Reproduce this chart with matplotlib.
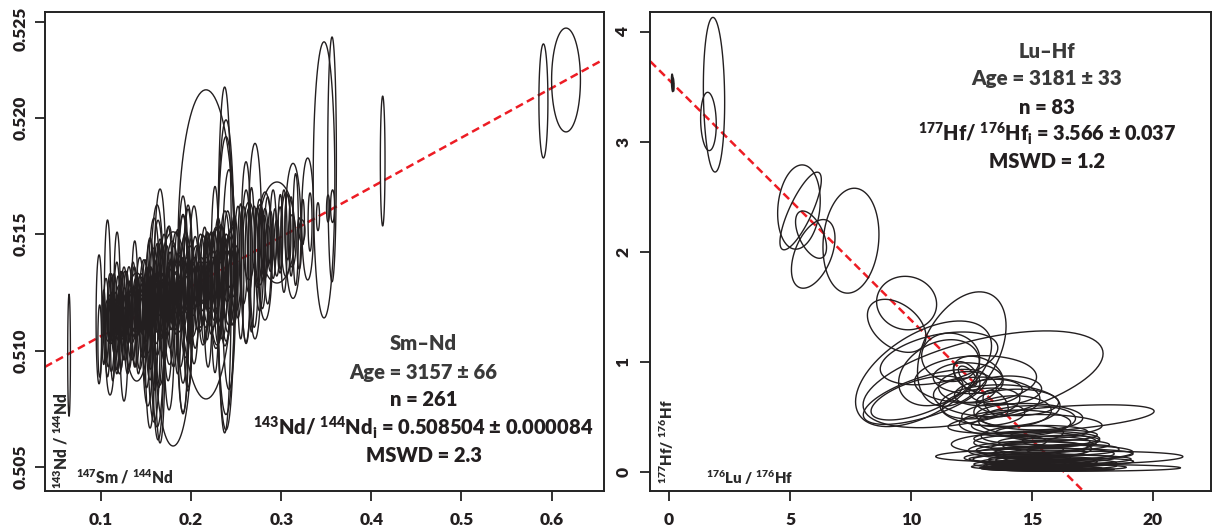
import numpy as np
import matplotlib
matplotlib.use("Agg")
import matplotlib.pyplot as plt
from matplotlib.transforms import ScaledTranslation

WEIGHT = 'heavy'
plt.rcParams['font.family'] = ['Lato', 'DejaVu Sans']
plt.rcParams['font.weight'] = WEIGHT
plt.rcParams['mathtext.default'] = 'regular'

INK = '#231f20'
RED = '#ed1c24'
W, H = 1213, 527

# ---- Sm-Nd: individually visible ellipses ----
nd_x = [.0645,.0978,.0985,.1072,.1178,.110,.1255,.1374,.1396,.1519,.1655,.1622,.1655,.1800,.2165,.2953,.3475,.3564,.4126,.591,.6161,.357,.352,.3408,.3294,.3131,.2709,.2609,.282,.2372,.2387,.2387,.242,.2265,.2987,.293,.3053,.312,.3231,.332,.324,.2642,.2764,.2742,.2809,.2853,.2176,.2287,.1544,.1633,.1755,.191,.1966,.1544,.1588,.191,.1966,.2032,.2132,.2188,.2276,.1766]
nd_y = [.5098,.51134,.51041,.51224,.51213,.51024,.51071,.512,.51101,.51033,.51273,.51149,.51041,.5105,.51456,.51507,.51733,.51821,.51814,.52072,.52162,.5162,.5161,.51575,.51565,.51514,.5147,.51424,.51406,.51389,.51325,.51322,.51305,.51305,.51475,.51497,.51497,.51471,.51514,.51552,.51552,.51471,.51454,.5145,.5145,.5145,.51278,.51273,.51071,.51088,.5114,.5116,.51234,.51179,.51131,.51196,.51217,.51282,.5126,.51217,.51269,.51217]
nd_hx = [.0015,.0033,.002,.0035,.0035,.005,.0045,.0035,.013,.0055,.0066,.0078,.0055,.02,.031,.02,.012,.0048,.0026,.005,.016,.0022,.0017,.0017,.0067,.0088,.0075,.0055,.008,.0075,.0095,.0095,.0075,.0045,.0028,.0022,.0055,.0044,.0033,.0022,.0017,.0066,.0055,.004,.0035,.0028,.004,.0078,.0055,.0065,.006,.0065,.0055,.005,.007,.006,.005,.0055,.0055,.0045,.0065,.0038]
nd_hy = [.00262,.00277,.00155,.00337,.00296,.00215,.00288,.00271,.00232,.00271,.00421,.00477,.00438,.0046,.00664,.00217,.00593,.00526,.00279,.00245,.00223,.0007,.00058,.0006,.00262,.0029,.0042,.00387,.00275,.00743,.00666,.00597,.00472,.004,.00142,.00112,.0018,.00112,.00047,.00125,.00097,.00167,.00172,.00165,.0013,.00086,.00232,.00249,.00404,.00472,.00395,.00425,.00391,.00305,.00438,.00468,.00391,.00339,.00236,.00288,.0026,.00206]

# ---- Sm-Nd: the dense band ----
band_x = [.103,.1055,.108,.110,.1115,.113,.1145,.116,.1175,.119,.1205,.122,.1235,.125,.1265,.128,.1295,.131,.1325,.134,
          .1355,.137,.1385,.140,.1415,.143,.1445,.146,.1475,.149,.1505,.152,.1535,.155,.1565,.158,.1595,.161,.1625,.164,
          .1655,.167,.1685,.170,.1715,.173,.1745,.176,.1775,.179,.1805,.182,.1835,.185,.1865,.188,.1895,.191,.1925,.194,
          .1955,.197,.1985,.200,.2015,.203,.2045,.206,.2075,.209,.2105,.212,.2135,.215,.2165,.218,.2195,.221,.2225,.224,.2255,.227,.2285,.230,.2315,.233,.2345,.236,.2375,.239,.2405,.242,.2435,.245,.2465,.248,.2495,
          .252,.255,.258,.261,.264,.267,.270,.273,.276,.279,.282,.285,.288,.291,.295,.299,.303,.307,.311,.316,.320]
band_y = [.5110,.5113,.5107,.5118,.5112,.5106,.5116,.5109,.5114,.5120,.5108,.5113,.5118,.5110,.5115,.5121,.5107,.5114,.5118,.5111,
          .5117,.5122,.5112,.5119,.5108,.5116,.5121,.5113,.5118,.5124,.5110,.5117,.5122,.5114,.5119,.5125,.5111,.5118,.5122,.5115,
          .5120,.5126,.5116,.5123,.5118,.5127,.5120,.5116,.5124,.5128,.5119,.5123,.5129,.5121,.5125,.5117,.5127,.5122,.5130,.5124,
          .5128,.5121,.5131,.5126,.5122,.5129,.5125,.5132,.5127,.5123,.5130,.5126,.5133,.5128,.5124,.5131,.5127,.5134,.5129,.5125,.5132,.5128,.5135,.5130,.5126,.5133,.5129,.5136,.5131,.5127,.5134,.5130,.5137,.5132,.5128,.5135,.5131,
          .5138,.5134,.5141,.5136,.5143,.5139,.5136,.5144,.5141,.5138,.5146,.5143,.5147,.5150,.5144,.5151,.5147,.5153,.5149,.5152,.5146]
band_hx = [.002,.003,.0025,.003,.0035,.0025,.003,.003,.0035,.0025,.004,.003,.0035,.003,.0045,.003,.0035,.004,.003,.0045,
           .0035,.003,.004,.0035,.003,.0045,.004,.0035,.005,.003,.004,.0055,.0035,.0045,.004,.0055,.0035,.005,.0045,.004,
           .006,.004,.005,.0045,.006,.0035,.005,.0055,.004,.0065,.005,.0045,.0055,.004,.006,.005,.0045,.0055,.004,.006,
           .005,.0045,.0055,.004,.006,.005,.0045,.0055,.004,.006,.005,.0045,.0055,.0045,.006,.005,.004,.0055,.005,.0065,.0045,.005,.0055,.0045,.006,.005,.0055,.0045,.006,.0055,.005,.0065,.0045,.0055,.005,.004,.0055,
           .004,.0035,.0045,.005,.004,.0035,.0045,.003,.0045,.004,.0035,.004,.003,.0035,.003,.0025,.0035,.003,.0025,.003,.0025]
band_hy = [.0016,.0018,.0014,.0015,.0021,.0019,.0017,.0013,.0024,.0012,.0018,.0021,.0016,.0014,.0019,.0013,.0017,.0022,.0012,.0015,
           .0021,.0014,.0019,.0013,.0018,.0024,.0012,.0016,.0021,.0015,.0026,.0018,.0013,.0022,.0016,.0019,.0028,.0015,.0024,.0031,
           .0014,.0021,.0017,.0027,.0013,.0018,.0033,.0022,.0015,.0019,.0026,.0014,.0022,.0031,.0017,.0024,.0013,.0036,.0019,.0027,
           .0012,.0018,.0014,.0022,.0016,.0011,.0024,.0013,.0018,.0015,.0020,.0012,.0016,.0025,.0014,.0019,.0011,.0016,.0022,.0015,.0019,.0012,.0017,.0027,.0016,.0021,.0024,.0013,.0029,.0023,.0026,.0019,.0014,.0021,.0017,.0023,.0014,
           .0024,.0029,.0021,.0033,.0018,.0031,.0026,.0017,.0024,.0020,.0015,.0023,.0013,.0019,.0012,.0016,.0022,.0014,.0017,.0024,.0011]

# ---- Sm-Nd: small ellipses that make up the black core ----
core_x = [.108,.110,.112,.114,.116,.118,.120,.122,.124,.126,.128,.130,.132,.134,.136,.138,.140,.142,.144,.146,.148,.150,.152,.154,.156,.158,.160,.162,.164,.166,.168,.170,.172,.174,.176,.178,.180,.182,.184,.186,.188,.190,.193,.196,.199,.202,.205,.208,.211,.214,.217,.220,.223,.226,.229,.232,.236,.240,.244,.248]
core_y = [.5113,.5111,.5114,.5112,.5115,.5113,.5116,.5114,.5112,.5116,.5115,.5113,.5117,.5115,.5118,.5116,.5114,.5118,.5116,.5119,.5117,.5115,.5119,.5118,.5120,.5117,.5121,.5119,.5122,.5120,.5118,.5122,.5120,.5123,.5121,.5125,.5123,.5121,.5125,.5124,.5126,.5123,.5127,.5125,.5128,.5126,.5129,.5127,.5130,.5128,.5131,.5129,.5132,.5130,.5133,.5131,.5134,.5132,.5135,.5133]
core_hx = [.004,.003,.0035,.004,.003,.0035,.004,.003,.0045,.0035,.004,.003,.0035,.0045,.003,.004,.0035,.0045,.004,.003,.0045,.004,.0035,.005,.004,.0035,.0045,.005,.004,.0035,.0045,.005,.004,.0035,.005,.0045,.004,.0055,.0045,.004,.005,.0045,.005,.004,.0055,.0045,.005,.004,.0055,.0045,.005,.004,.0055,.0045,.005,.004,.0055,.0045,.005,.004]
core_hy = [.0009,.0007,.0011,.0008,.0010,.0006,.0012,.0009,.0007,.0011,.0008,.0010,.0007,.0012,.0009,.0011,.0006,.0010,.0008,.0012,.0007,.0011,.0009,.0010,.0006,.0012,.0008,.0011,.0007,.0010,.0012,.0009,.0006,.0011,.0008,.0010,.0007,.0012,.0009,.0006,.0011,.0008,.0010,.0007,.0009,.0011,.0006,.0008,.0010,.0007,.0009,.0006,.0011,.0008,.0010,.0007,.0009,.0011,.0008,.0010]

# ---- Lu-Hf ellipses ----
hf_x = [1.86,1.63,.14,.18,5.37,5.44,5.87,5.96,7.52,9.82,9.41,12.1,10.52,12.98,11.16,11.64,11.16,10.58,10.25,12.67,13.13,13.68,12.34,12.78,12.31,12.34,12.35,15.79,14.67,15.1,16.9,16.99,16.28,14.92,
        14.2,14.9,13.5,14.3,15.2,14.8,15.2,15.5,16.0,15.3,14.6,
        14.2,14.8,15.3,15.9,16.2,15.0,15.6,16.4,14.6,15.2,15.8,16.0,15.1,15.7,16.6,14.9,15.5,16.3,14.5,14.4,15.4,16.1,15.6,16.1,15.0,15.4,
        13.2,13.9,14.4,12.9,13.4,16.2,14.1,16.7,15.4,15.9,14.5,15.0]
hf_y = [3.427,3.184,3.535,3.52,2.406,2.37,2.155,1.98,2.10,1.533,1.326,1.115,.89,.84,1.03,1.04,.9,.68,.67,.84,.68,.6,.77,.88,.87,.87,.85,.478,.26,.15,.125,.035,.17,.2,
        .55,.5,.62,.44,.42,.47,.30,.27,.24,.22,.34,
        .05,.07,.09,.05,.08,.04,.03,.04,.03,.025,.06,.02,.06,.1,.09,.11,.02,.11,.045,.13,.12,.16,.075,.035,.07,.05,
        .72,.74,.63,.62,.52,.28,.27,.2,.36,.33,.2,.18]
hf_hx = [.44,.323,.04,.03,.88,.855,.64,.9,1.157,1.24,1.21,1.83,2.81,4.96,2.43,1.2,1.67,2.55,1.9,2.52,2.2,2.48,1.2,1.03,.54,.38,1.43,4.26,3.0,4.08,4.34,4.15,2.9,2.55,
         1.6,2.2,.52,2.3,2.7,2.0,2.6,1.9,2.2,2.0,1.7,
         1.2,2.2,2.4,2.6,2.3,1.9,2.3,2.5,1.7,2.1,1.8,2.4,2.0,1.9,2.6,1.7,1.8,2.8,2.0,2.2,3.0,2.3,1.5,1.6,1.4,1.7,
         1.4,1.5,1.7,1.6,1.3,1.6,1.5,1.9,1.9,1.8,1.8,2.2]
hf_hy = [.703,.265,.08,.06,.383,.353,.215,.312,.477,.243,.241,.52,.48,.44,.24,.22,.3,.25,.2,.215,.18,.19,.14,.17,.13,.09,.14,.13,.1,.06,.06,.03,.07,.08,
         .14,.12,.12,.12,.1,.13,.07,.05,.05,.05,.08,
         .03,.035,.04,.03,.035,.025,.02,.025,.02,.015,.03,.015,.03,.04,.035,.035,.015,.04,.025,.05,.04,.05,.025,.015,.025,.02,
         .12,.13,.12,.14,.1,.05,.06,.05,.06,.05,.05,.045]
hf_rho = [-.1,-.1,-.3,-.3,.15,.8,-.54,.46,.12,-.05,-.4,.4,.53,.53,.4,-.05,.3,.65,.6,.1,-.1,0,0,-.3,-.5,-.6,-.05,.55,.1,.2,.2,0,.1,.1,
          .05,-.1,-.4,.05,0,.1,0,.05,.1,.1,.2,
          0,.05,0,.1,0,0,.05,0,0,0,.1,0,.05,.1,.1,0,0,.1,0,.1,.1,.05,0,0,0,0,
          .2,.1,0,.3,.2,.1,.1,.1,.05,.1,.1,.05]

# ---- isochrones (end points) ----
nd_line_x = [.0378, .6577]
nd_line_y = [.5093, .5225]
hf_line_x = [-.773, 17.1]
hf_line_y = [3.73, -.171]

# ---- ticks ----
nd_xticks = [.1, .2, .3, .4, .5, .6]
nd_xlabels = ['0.1', '0.2', '0.3', '0.4', '0.5', '0.6']
nd_yticks = [.505, .510, .515, .520, .52412]
nd_ylabels = ['0.505', '0.510', '0.515', '0.520', '0.525']
hf_xticks = [0, 5, 10, 15, 20]
hf_yticks = [0, 1, 2, 3, 4]

# ---- annotation text ----
nd_lines = ['Sm–Nd', 'Age = 3157 ± 66', 'n = 261',
            r'$^{143}$Nd/ $^{144}$Nd$_{i}$ = 0.508504 ± 0.000084', 'MSWD = 2.3']
hf_lines = ['Lu–Hf', 'Age = 3181 ± 33', 'n = 83',
            r'$^{177}$Hf/ $^{176}$Hf$_{i}$ = 3.566 ± 0.037', 'MSWD = 1.2']


def ellipse(ax, cx, cy, hx, hy, rho):
    t = np.linspace(0, 2 * np.pi, 90, endpoint=False)
    ax.fill(cx + hx * np.cos(t),
            cy + hy * (rho * np.cos(t) + np.sqrt(1 - rho ** 2) * np.sin(t)),
            fill=False, edgecolor=INK, lw=1.0, zorder=3, joinstyle='round')


def frame(px0, px1, py0, py1):
    return fig.add_axes([px0 / W, 1 - py1 / H, (px1 - px0) / W, (py1 - py0) / H])


def px_text(x, y, s, **kw):
    return fig.text(x / W, 1 - y / H, s, ha='center', va='center', fontweight=WEIGHT, **kw)


fig = plt.figure(figsize=(W / 100, H / 100), dpi=100, facecolor='white')

ax1 = frame(45, 603.5, 12, 490.5)
ax2 = frame(650.3, 1211, 12, 490.5)

for cx, cy, hx, hy in zip(nd_x, nd_y, nd_hx, nd_hy, strict=True):
    ellipse(ax1, cx, cy, hx, hy, 0.0)
for cx, cy, hx, hy in zip(band_x, band_y, band_hx, band_hy, strict=True):
    ellipse(ax1, cx, cy, hx, hy, 0.0)
for cx, cy, hx, hy in zip(core_x, core_y, core_hx, core_hy, strict=True):
    ellipse(ax1, cx, cy, hx, hy, 0.0)
for cx, cy, hx, hy, r in zip(hf_x, hf_y, hf_hx, hf_hy, hf_rho, strict=True):
    ellipse(ax2, cx, cy, hx, hy, r)

ax1.plot(nd_line_x, nd_line_y, color=RED, lw=1.8, dashes=(3.2, 1.8), zorder=2)
ax2.plot(hf_line_x, hf_line_y, color=RED, lw=1.8, dashes=(3.2, 1.8), zorder=2)

ax1.set_xlim(.0378, .6577)
ax1.set_ylim(.50399, .52454)
ax2.set_xlim(-.773, 22.4)
ax2.set_ylim(-.171, 4.179)

ax1.set_xticks(nd_xticks, nd_xlabels)
ax1.set_yticks(nd_yticks, nd_ylabels)
ax2.set_xticks(hf_xticks, [str(v) for v in hf_xticks])
ax2.set_yticks(hf_yticks, [str(v) for v in hf_yticks])

for ax, ypad in ((ax1, 4.5), (ax2, 6.5)):
    for s in ax.spines.values():
        s.set_linewidth(1.4)
        s.set_color('#222222')
    ax.tick_params(axis='both', length=7.2, width=1.3, color='#222222', labelsize=12.5, labelcolor=INK)
    ax.tick_params(axis='x', pad=8)
    ax.tick_params(axis='y', pad=ypad, labelrotation=90)
    for lab in ax.get_yticklabels():
        lab.set_va('center')
        lab.set_fontweight(WEIGHT)
    for lab in ax.get_xticklabels():
        lab.set_fontweight(WEIGHT)

top_label = ax1.get_yticklabels()[-1]
top_label.set_transform(top_label.get_transform() + ScaledTranslation(0, -5 / 72, fig.dpi_scale_trans))

for s, y, c in zip(nd_lines, [344, 372, 400, 428, 456], ['#3a3a3a', '#3a3a3a', INK, INK, INK]):
    px_text(423.5, y, s, fontsize=14.5, color=c)
for s, y, c, fs in zip(hf_lines, [51, 78, 107, 134, 162], ['#3a3a3a', '#3a3a3a', INK, INK, INK],
                       [14.5, 14.8, 14.5, 14.3, 14.5]):
    px_text(1047, y, s, fontsize=fs, color=c)

px_text(124.5, 477, r'$^{147}$Sm / $^{144}$Nd', fontsize=11.2, color='#2a2a2a')
px_text(61, 441, r'$^{143}$Nd / $^{144}$Nd', fontsize=11.2, color='#2a2a2a', rotation=90)
px_text(750, 478, r'$^{176}$Lu / $^{176}$Hf', fontsize=10.8, color='#2a2a2a')
px_text(667, 442, r'$^{177}$Hf/ $^{176}$Hf', fontsize=10.8, color='#2a2a2a', rotation=90)

fig.savefig('out.png', dpi=100)
